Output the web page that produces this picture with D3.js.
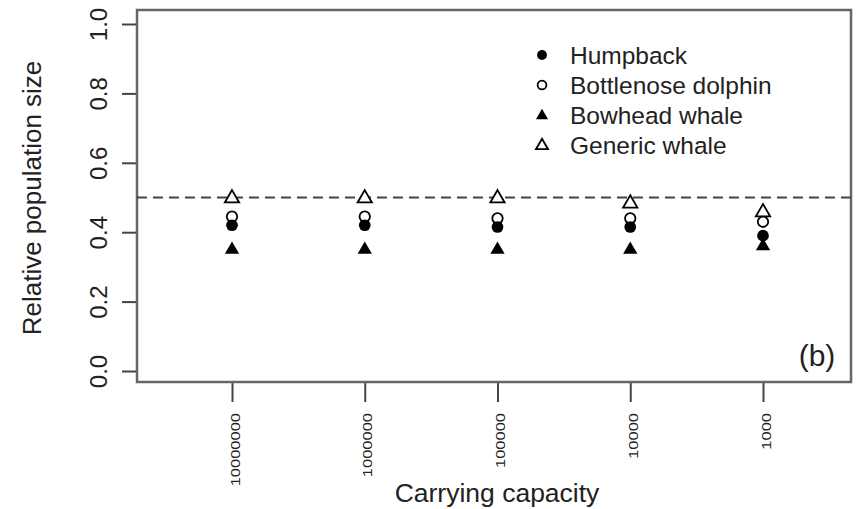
<!DOCTYPE html>
<html>
<head>
<meta charset="utf-8">
<script src="https://cdn.jsdelivr.net/npm/d3@7"></script>
<style>
  body { margin: 0; background: #fff; }
  text { font-family: "Liberation Sans", Arial, sans-serif; fill: #222; }
</style>
</head>
<body>
<svg id="chart" width="857" height="509"></svg>
<script>
// carrying capacities on the x axis
var capacities = ["10000000", "1000000", "100000", "10000", "1000"];
var yTicks = [0, 0.2, 0.4, 0.6, 0.8, 1.0];

// relative population size per species
var humpback = [0.42, 0.42, 0.415, 0.415, 0.39];
var bottlenose = [0.445, 0.445, 0.44, 0.44, 0.43];
var bowhead = [0.352, 0.352, 0.352, 0.352, 0.362];
var generic = [0.50, 0.50, 0.50, 0.485, 0.46];

var series = [
  {name: "Humpback", values: humpback, shape: "circle", filled: true},
  {name: "Bottlenose dolphin", values: bottlenose, shape: "circle", filled: false},
  {name: "Bowhead whale", values: bowhead, shape: "triangle", filled: true},
  {name: "Generic whale", values: generic, shape: "triangle", filled: false}
];

var svg = d3.select("#chart");
var box = {left: 137, right: 851, top: 10, bottom: 382};

var x = d3.scaleLinear().domain([1, 5]).range([232, 763]);
var y = d3.scaleLinear().domain([0, 1]).range([371, 24]);

// y axis
var yAxis = d3.axisLeft(y).tickValues(yTicks).tickSize(15).tickFormat(d3.format(".1f"));
var gy = svg.append("g").attr("transform", "translate(" + box.left + ",0)").call(yAxis);
gy.select(".domain").remove();
gy.selectAll(".tick line").attr("stroke", "#444").attr("stroke-width", 2);
gy.selectAll(".tick text")
  .attr("x", null).attr("dy", null)
  .attr("transform", "translate(-39,0) rotate(-90)")
  .attr("text-anchor", "middle")
  .attr("dominant-baseline", "central")
  .style("font-size", "24px");

// x axis
var xAxis = d3.axisBottom(x).tickValues([1, 2, 3, 4, 5]).tickSize(20)
  .tickFormat(function(d, i) { return capacities[i]; });
var gx = svg.append("g").attr("transform", "translate(0," + box.bottom + ")").call(xAxis);
gx.select(".domain").remove();
gx.selectAll(".tick line").attr("stroke", "#444").attr("stroke-width", 2);
gx.selectAll(".tick text")
  .attr("y", null).attr("dy", null)
  .attr("transform", "translate(3,31) rotate(-90) scale(1,0.72)")
  .attr("text-anchor", "end")
  .attr("dominant-baseline", "central")
  .style("font-size", "16.5px");

// frame
svg.append("rect")
  .attr("x", box.left).attr("y", box.top)
  .attr("width", box.right - box.left).attr("height", box.bottom - box.top)
  .attr("fill", "none").attr("stroke", "#666").attr("stroke-width", 2.5);

// reference line at 0.5
svg.append("line")
  .attr("x1", box.left).attr("x2", box.right)
  .attr("y1", y(0.5)).attr("y2", y(0.5))
  .attr("stroke", "#444").attr("stroke-width", 2)
  .attr("stroke-dasharray", "10,6");

function marker(sel, s, size) {
  if (s.shape === "circle") {
    sel.append("circle")
      .attr("r", s.filled ? size * 0.45 : size * 0.4)
      .attr("fill", s.filled ? "#000" : "#fff")
      .attr("stroke", "#000").attr("stroke-width", s.filled ? 0 : 1.8);
  } else {
    var h = size * 0.95, w = size * 1.1;
    sel.append("path")
      .attr("d", "M0," + (-h * 0.6) + "L" + (w / 2) + "," + (h * 0.4) + "L" + (-w / 2) + "," + (h * 0.4) + "Z")
      .attr("fill", s.filled ? "#000" : "#fff")
      .attr("stroke", "#000").attr("stroke-width", s.filled ? 0 : 1.8);
  }
}

// points, drawn generic first so filled marks sit on top
series.slice().reverse().forEach(function(s) {
  svg.append("g").selectAll("g").data(s.values).enter().append("g")
    .attr("transform", function(d, i) { return "translate(" + x(i + 1) + "," + y(d) + ")"; })
    .each(function() { marker(d3.select(this), s, 13); });
});

// legend
var legend = svg.append("g").selectAll("g").data(series).enter().append("g")
  .attr("transform", function(d, i) { return "translate(542," + (55 + i * 30) + ")"; });
legend.each(function(s) { marker(d3.select(this), s, 11); });
legend.append("text")
  .attr("x", 28).attr("dominant-baseline", "central")
  .style("font-size", "24.5px")
  .text(function(d) { return d.name; });

// panel tag
svg.append("text").attr("x", 817).attr("y", 355)
  .attr("text-anchor", "middle").attr("dominant-baseline", "central")
  .style("font-size", "30px").text("(b)");

// axis titles
svg.append("text").attr("x", 497).attr("y", 493)
  .attr("text-anchor", "middle").attr("dominant-baseline", "central")
  .style("font-size", "26.5px").text("Carrying capacity");
svg.append("text").attr("transform", "translate(32,198) rotate(-90)")
  .attr("text-anchor", "middle").attr("dominant-baseline", "central")
  .style("font-size", "26px").text("Relative population size");
</script>
</body>
</html>
